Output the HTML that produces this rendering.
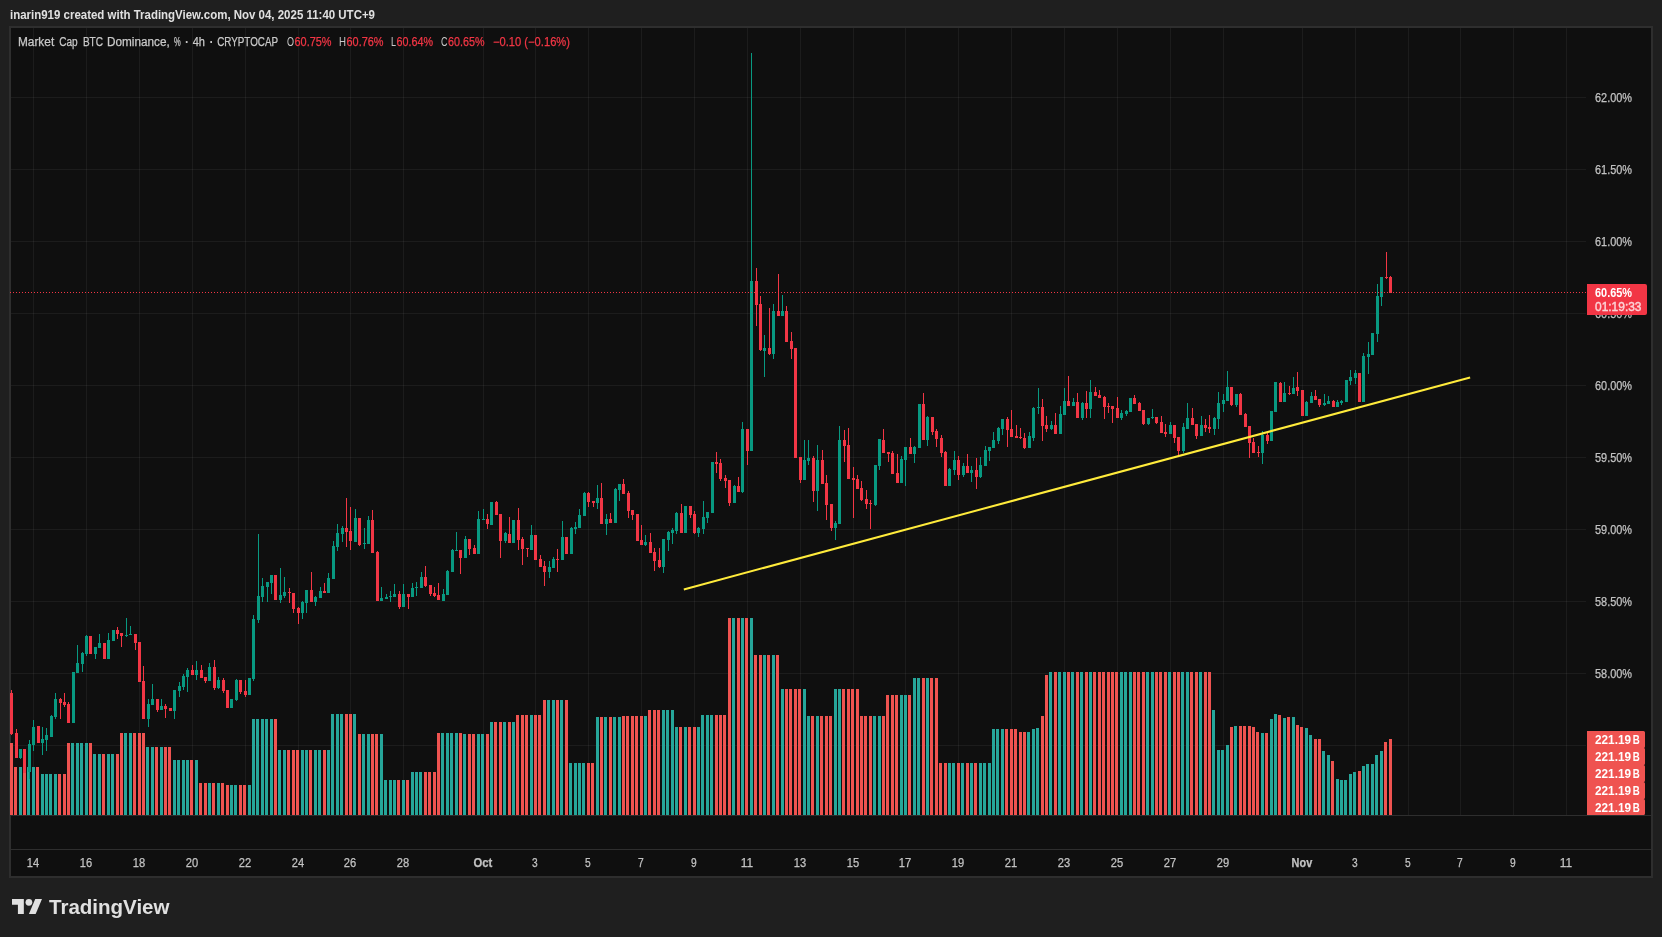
<!DOCTYPE html>
<html><head><meta charset="utf-8"><title>chart</title>
<style>
html,body{margin:0;padding:0;}
body{width:1662px;height:937px;background:#1f1f1f;position:relative;overflow:hidden;font-family:"Liberation Sans",sans-serif;}
#frame{position:absolute;left:9px;top:26px;width:1644px;height:852px;box-sizing:border-box;border:2px solid #2e2e2e;background:#0f0f0f;}
</style></head><body>
<div id="frame"></div>
<svg width="1662" height="937" viewBox="0 0 1662 937" style="position:absolute;left:0;top:0;will-change:transform" font-family="Liberation Sans, sans-serif">
<defs><clipPath id="cp"><rect x="10" y="28" width="1576" height="787"/></clipPath></defs>
<g fill="rgba(242,242,242,0.06)" shape-rendering="crispEdges">
<rect x="33" y="28" width="1" height="787"/>
<rect x="86" y="28" width="1" height="787"/>
<rect x="139" y="28" width="1" height="787"/>
<rect x="192" y="28" width="1" height="787"/>
<rect x="245" y="28" width="1" height="787"/>
<rect x="298" y="28" width="1" height="787"/>
<rect x="350" y="28" width="1" height="787"/>
<rect x="403" y="28" width="1" height="787"/>
<rect x="483" y="28" width="1" height="787"/>
<rect x="535" y="28" width="1" height="787"/>
<rect x="588" y="28" width="1" height="787"/>
<rect x="641" y="28" width="1" height="787"/>
<rect x="694" y="28" width="1" height="787"/>
<rect x="747" y="28" width="1" height="787"/>
<rect x="800" y="28" width="1" height="787"/>
<rect x="853" y="28" width="1" height="787"/>
<rect x="905" y="28" width="1" height="787"/>
<rect x="958" y="28" width="1" height="787"/>
<rect x="1011" y="28" width="1" height="787"/>
<rect x="1064" y="28" width="1" height="787"/>
<rect x="1117" y="28" width="1" height="787"/>
<rect x="1170" y="28" width="1" height="787"/>
<rect x="1223" y="28" width="1" height="787"/>
<rect x="1302" y="28" width="1" height="787"/>
<rect x="1355" y="28" width="1" height="787"/>
<rect x="1408" y="28" width="1" height="787"/>
<rect x="1460" y="28" width="1" height="787"/>
<rect x="1513" y="28" width="1" height="787"/>
<rect x="1566" y="28" width="1" height="787"/>
<rect x="11" y="97" width="1575" height="1"/>
<rect x="11" y="169" width="1575" height="1"/>
<rect x="11" y="241" width="1575" height="1"/>
<rect x="11" y="313" width="1575" height="1"/>
<rect x="11" y="385" width="1575" height="1"/>
<rect x="11" y="457" width="1575" height="1"/>
<rect x="11" y="529" width="1575" height="1"/>
<rect x="11" y="601" width="1575" height="1"/>
<rect x="11" y="673" width="1575" height="1"/>
<rect x="11" y="745" width="1575" height="1"/>
</g>
<g fill="#2e2e2e" shape-rendering="crispEdges"><rect x="11" y="815" width="1640" height="1"/><rect x="11" y="849" width="1640" height="1"/></g>
<g clip-path="url(#cp)" shape-rendering="crispEdges">
<g fill="#26a69a">
<rect x="19" y="767" width="3" height="48"/>
<rect x="27" y="767" width="3" height="48"/>
<rect x="32" y="767" width="3" height="48"/>
<rect x="41" y="774" width="3" height="41"/>
<rect x="45" y="774" width="3" height="41"/>
<rect x="49" y="774" width="3" height="41"/>
<rect x="54" y="774" width="3" height="41"/>
<rect x="71" y="743" width="3" height="72"/>
<rect x="76" y="743" width="3" height="72"/>
<rect x="80" y="743" width="3" height="72"/>
<rect x="85" y="743" width="3" height="72"/>
<rect x="93" y="754" width="3" height="61"/>
<rect x="98" y="754" width="3" height="61"/>
<rect x="107" y="754" width="3" height="61"/>
<rect x="111" y="754" width="3" height="61"/>
<rect x="124" y="733" width="3" height="82"/>
<rect x="129" y="733" width="3" height="82"/>
<rect x="146" y="747" width="3" height="68"/>
<rect x="151" y="747" width="3" height="68"/>
<rect x="160" y="747" width="3" height="68"/>
<rect x="173" y="760" width="3" height="55"/>
<rect x="177" y="760" width="3" height="55"/>
<rect x="182" y="760" width="3" height="55"/>
<rect x="186" y="760" width="3" height="55"/>
<rect x="195" y="760" width="3" height="55"/>
<rect x="208" y="783" width="3" height="32"/>
<rect x="217" y="783" width="3" height="32"/>
<rect x="230" y="785" width="3" height="30"/>
<rect x="234" y="785" width="3" height="30"/>
<rect x="248" y="785" width="3" height="30"/>
<rect x="252" y="719" width="3" height="96"/>
<rect x="256" y="719" width="3" height="96"/>
<rect x="261" y="719" width="3" height="96"/>
<rect x="265" y="719" width="3" height="96"/>
<rect x="270" y="719" width="3" height="96"/>
<rect x="278" y="750" width="3" height="65"/>
<rect x="283" y="750" width="3" height="65"/>
<rect x="301" y="750" width="3" height="65"/>
<rect x="305" y="750" width="3" height="65"/>
<rect x="314" y="750" width="3" height="65"/>
<rect x="318" y="750" width="3" height="65"/>
<rect x="327" y="750" width="3" height="65"/>
<rect x="331" y="714" width="3" height="101"/>
<rect x="336" y="714" width="3" height="101"/>
<rect x="340" y="714" width="3" height="101"/>
<rect x="353" y="714" width="3" height="101"/>
<rect x="362" y="734" width="3" height="81"/>
<rect x="367" y="734" width="3" height="81"/>
<rect x="380" y="734" width="3" height="81"/>
<rect x="384" y="780" width="3" height="35"/>
<rect x="389" y="780" width="3" height="35"/>
<rect x="393" y="780" width="3" height="35"/>
<rect x="402" y="780" width="3" height="35"/>
<rect x="411" y="772" width="3" height="43"/>
<rect x="415" y="772" width="3" height="43"/>
<rect x="419" y="772" width="3" height="43"/>
<rect x="441" y="733" width="3" height="82"/>
<rect x="446" y="733" width="3" height="82"/>
<rect x="450" y="733" width="3" height="82"/>
<rect x="455" y="733" width="3" height="82"/>
<rect x="463" y="734" width="3" height="81"/>
<rect x="477" y="734" width="3" height="81"/>
<rect x="481" y="734" width="3" height="81"/>
<rect x="490" y="722" width="3" height="93"/>
<rect x="503" y="722" width="3" height="93"/>
<rect x="512" y="722" width="3" height="93"/>
<rect x="530" y="715" width="3" height="100"/>
<rect x="547" y="700" width="3" height="115"/>
<rect x="552" y="700" width="3" height="115"/>
<rect x="560" y="700" width="3" height="115"/>
<rect x="569" y="763" width="3" height="52"/>
<rect x="574" y="763" width="3" height="52"/>
<rect x="578" y="763" width="3" height="52"/>
<rect x="582" y="763" width="3" height="52"/>
<rect x="596" y="717" width="3" height="98"/>
<rect x="604" y="717" width="3" height="98"/>
<rect x="613" y="717" width="3" height="98"/>
<rect x="618" y="717" width="3" height="98"/>
<rect x="644" y="716" width="3" height="99"/>
<rect x="662" y="710" width="3" height="105"/>
<rect x="666" y="710" width="3" height="105"/>
<rect x="671" y="710" width="3" height="105"/>
<rect x="675" y="727" width="3" height="88"/>
<rect x="684" y="727" width="3" height="88"/>
<rect x="697" y="727" width="3" height="88"/>
<rect x="701" y="715" width="3" height="100"/>
<rect x="706" y="715" width="3" height="100"/>
<rect x="710" y="715" width="3" height="100"/>
<rect x="732" y="618" width="3" height="197"/>
<rect x="741" y="618" width="3" height="197"/>
<rect x="750" y="618" width="3" height="197"/>
<rect x="763" y="655" width="3" height="160"/>
<rect x="772" y="655" width="3" height="160"/>
<rect x="781" y="689" width="3" height="126"/>
<rect x="803" y="689" width="3" height="126"/>
<rect x="807" y="716" width="3" height="99"/>
<rect x="816" y="716" width="3" height="99"/>
<rect x="834" y="689" width="3" height="126"/>
<rect x="838" y="689" width="3" height="126"/>
<rect x="873" y="716" width="3" height="99"/>
<rect x="878" y="716" width="3" height="99"/>
<rect x="900" y="695" width="3" height="120"/>
<rect x="904" y="695" width="3" height="120"/>
<rect x="913" y="678" width="3" height="137"/>
<rect x="917" y="678" width="3" height="137"/>
<rect x="926" y="678" width="3" height="137"/>
<rect x="948" y="763" width="3" height="52"/>
<rect x="952" y="763" width="3" height="52"/>
<rect x="961" y="763" width="3" height="52"/>
<rect x="970" y="763" width="3" height="52"/>
<rect x="979" y="763" width="3" height="52"/>
<rect x="983" y="763" width="3" height="52"/>
<rect x="988" y="763" width="3" height="52"/>
<rect x="992" y="729" width="3" height="86"/>
<rect x="996" y="729" width="3" height="86"/>
<rect x="1001" y="729" width="3" height="86"/>
<rect x="1027" y="732" width="3" height="83"/>
<rect x="1032" y="729" width="3" height="86"/>
<rect x="1036" y="728" width="3" height="87"/>
<rect x="1049" y="672" width="3" height="143"/>
<rect x="1058" y="672" width="3" height="143"/>
<rect x="1063" y="672" width="3" height="143"/>
<rect x="1071" y="672" width="3" height="143"/>
<rect x="1080" y="672" width="3" height="143"/>
<rect x="1089" y="672" width="3" height="143"/>
<rect x="1120" y="672" width="3" height="143"/>
<rect x="1124" y="672" width="3" height="143"/>
<rect x="1129" y="672" width="3" height="143"/>
<rect x="1146" y="672" width="3" height="143"/>
<rect x="1151" y="672" width="3" height="143"/>
<rect x="1168" y="672" width="3" height="143"/>
<rect x="1181" y="672" width="3" height="143"/>
<rect x="1186" y="672" width="3" height="143"/>
<rect x="1199" y="672" width="3" height="143"/>
<rect x="1212" y="710" width="3" height="105"/>
<rect x="1217" y="750" width="3" height="65"/>
<rect x="1221" y="750" width="3" height="65"/>
<rect x="1226" y="745" width="3" height="70"/>
<rect x="1234" y="726" width="3" height="89"/>
<rect x="1261" y="733" width="3" height="82"/>
<rect x="1270" y="719" width="3" height="96"/>
<rect x="1274" y="714" width="3" height="101"/>
<rect x="1283" y="718" width="3" height="97"/>
<rect x="1292" y="717" width="3" height="98"/>
<rect x="1305" y="728" width="3" height="87"/>
<rect x="1309" y="735" width="3" height="80"/>
<rect x="1322" y="751" width="3" height="64"/>
<rect x="1327" y="755" width="3" height="60"/>
<rect x="1336" y="779" width="3" height="36"/>
<rect x="1340" y="780" width="3" height="35"/>
<rect x="1344" y="780" width="3" height="35"/>
<rect x="1349" y="774" width="3" height="41"/>
<rect x="1353" y="772" width="3" height="43"/>
<rect x="1362" y="766" width="3" height="49"/>
<rect x="1366" y="764" width="3" height="51"/>
<rect x="1371" y="764" width="3" height="51"/>
<rect x="1375" y="755" width="3" height="60"/>
<rect x="1380" y="751" width="3" height="64"/>
</g>
<g fill="#ef5350">
<rect x="10" y="743" width="3" height="72"/>
<rect x="14" y="767" width="3" height="48"/>
<rect x="23" y="767" width="3" height="48"/>
<rect x="36" y="767" width="3" height="48"/>
<rect x="58" y="774" width="3" height="41"/>
<rect x="63" y="774" width="3" height="41"/>
<rect x="67" y="743" width="3" height="72"/>
<rect x="89" y="743" width="3" height="72"/>
<rect x="102" y="754" width="3" height="61"/>
<rect x="116" y="754" width="3" height="61"/>
<rect x="120" y="733" width="3" height="82"/>
<rect x="133" y="733" width="3" height="82"/>
<rect x="138" y="733" width="3" height="82"/>
<rect x="142" y="733" width="3" height="82"/>
<rect x="155" y="747" width="3" height="68"/>
<rect x="164" y="747" width="3" height="68"/>
<rect x="168" y="747" width="3" height="68"/>
<rect x="190" y="760" width="3" height="55"/>
<rect x="199" y="783" width="3" height="32"/>
<rect x="204" y="783" width="3" height="32"/>
<rect x="212" y="783" width="3" height="32"/>
<rect x="221" y="783" width="3" height="32"/>
<rect x="226" y="785" width="3" height="30"/>
<rect x="239" y="785" width="3" height="30"/>
<rect x="243" y="785" width="3" height="30"/>
<rect x="274" y="719" width="3" height="96"/>
<rect x="287" y="750" width="3" height="65"/>
<rect x="292" y="750" width="3" height="65"/>
<rect x="296" y="750" width="3" height="65"/>
<rect x="309" y="750" width="3" height="65"/>
<rect x="323" y="750" width="3" height="65"/>
<rect x="345" y="714" width="3" height="101"/>
<rect x="349" y="714" width="3" height="101"/>
<rect x="358" y="734" width="3" height="81"/>
<rect x="371" y="734" width="3" height="81"/>
<rect x="375" y="734" width="3" height="81"/>
<rect x="397" y="780" width="3" height="35"/>
<rect x="406" y="780" width="3" height="35"/>
<rect x="424" y="772" width="3" height="43"/>
<rect x="428" y="772" width="3" height="43"/>
<rect x="433" y="772" width="3" height="43"/>
<rect x="437" y="733" width="3" height="82"/>
<rect x="459" y="733" width="3" height="82"/>
<rect x="468" y="734" width="3" height="81"/>
<rect x="472" y="734" width="3" height="81"/>
<rect x="486" y="734" width="3" height="81"/>
<rect x="494" y="722" width="3" height="93"/>
<rect x="499" y="722" width="3" height="93"/>
<rect x="508" y="722" width="3" height="93"/>
<rect x="516" y="715" width="3" height="100"/>
<rect x="521" y="715" width="3" height="100"/>
<rect x="525" y="715" width="3" height="100"/>
<rect x="534" y="715" width="3" height="100"/>
<rect x="538" y="715" width="3" height="100"/>
<rect x="543" y="700" width="3" height="115"/>
<rect x="556" y="700" width="3" height="115"/>
<rect x="565" y="700" width="3" height="115"/>
<rect x="587" y="763" width="3" height="52"/>
<rect x="591" y="763" width="3" height="52"/>
<rect x="600" y="717" width="3" height="98"/>
<rect x="609" y="717" width="3" height="98"/>
<rect x="622" y="716" width="3" height="99"/>
<rect x="626" y="716" width="3" height="99"/>
<rect x="631" y="716" width="3" height="99"/>
<rect x="635" y="716" width="3" height="99"/>
<rect x="640" y="716" width="3" height="99"/>
<rect x="648" y="710" width="3" height="105"/>
<rect x="653" y="710" width="3" height="105"/>
<rect x="657" y="710" width="3" height="105"/>
<rect x="679" y="727" width="3" height="88"/>
<rect x="688" y="727" width="3" height="88"/>
<rect x="693" y="727" width="3" height="88"/>
<rect x="715" y="715" width="3" height="100"/>
<rect x="719" y="715" width="3" height="100"/>
<rect x="723" y="715" width="3" height="100"/>
<rect x="728" y="618" width="3" height="197"/>
<rect x="737" y="618" width="3" height="197"/>
<rect x="745" y="618" width="3" height="197"/>
<rect x="754" y="655" width="3" height="160"/>
<rect x="759" y="655" width="3" height="160"/>
<rect x="767" y="655" width="3" height="160"/>
<rect x="776" y="655" width="3" height="160"/>
<rect x="785" y="689" width="3" height="126"/>
<rect x="789" y="689" width="3" height="126"/>
<rect x="794" y="689" width="3" height="126"/>
<rect x="798" y="689" width="3" height="126"/>
<rect x="811" y="716" width="3" height="99"/>
<rect x="820" y="716" width="3" height="99"/>
<rect x="825" y="716" width="3" height="99"/>
<rect x="829" y="716" width="3" height="99"/>
<rect x="842" y="689" width="3" height="126"/>
<rect x="847" y="689" width="3" height="126"/>
<rect x="851" y="689" width="3" height="126"/>
<rect x="856" y="689" width="3" height="126"/>
<rect x="860" y="716" width="3" height="99"/>
<rect x="864" y="716" width="3" height="99"/>
<rect x="869" y="716" width="3" height="99"/>
<rect x="882" y="716" width="3" height="99"/>
<rect x="886" y="695" width="3" height="120"/>
<rect x="891" y="695" width="3" height="120"/>
<rect x="895" y="695" width="3" height="120"/>
<rect x="908" y="695" width="3" height="120"/>
<rect x="922" y="678" width="3" height="137"/>
<rect x="930" y="678" width="3" height="137"/>
<rect x="935" y="678" width="3" height="137"/>
<rect x="939" y="763" width="3" height="52"/>
<rect x="944" y="763" width="3" height="52"/>
<rect x="957" y="763" width="3" height="52"/>
<rect x="966" y="763" width="3" height="52"/>
<rect x="974" y="763" width="3" height="52"/>
<rect x="1005" y="729" width="3" height="86"/>
<rect x="1010" y="729" width="3" height="86"/>
<rect x="1014" y="729" width="3" height="86"/>
<rect x="1019" y="732" width="3" height="83"/>
<rect x="1023" y="732" width="3" height="83"/>
<rect x="1041" y="716" width="3" height="99"/>
<rect x="1045" y="675" width="3" height="140"/>
<rect x="1054" y="672" width="3" height="143"/>
<rect x="1067" y="672" width="3" height="143"/>
<rect x="1076" y="672" width="3" height="143"/>
<rect x="1085" y="672" width="3" height="143"/>
<rect x="1093" y="672" width="3" height="143"/>
<rect x="1098" y="672" width="3" height="143"/>
<rect x="1102" y="672" width="3" height="143"/>
<rect x="1107" y="672" width="3" height="143"/>
<rect x="1111" y="672" width="3" height="143"/>
<rect x="1115" y="672" width="3" height="143"/>
<rect x="1133" y="672" width="3" height="143"/>
<rect x="1137" y="672" width="3" height="143"/>
<rect x="1142" y="672" width="3" height="143"/>
<rect x="1155" y="672" width="3" height="143"/>
<rect x="1159" y="672" width="3" height="143"/>
<rect x="1164" y="672" width="3" height="143"/>
<rect x="1173" y="672" width="3" height="143"/>
<rect x="1177" y="672" width="3" height="143"/>
<rect x="1190" y="672" width="3" height="143"/>
<rect x="1195" y="672" width="3" height="143"/>
<rect x="1204" y="672" width="3" height="143"/>
<rect x="1208" y="672" width="3" height="143"/>
<rect x="1230" y="727" width="3" height="88"/>
<rect x="1239" y="726" width="3" height="89"/>
<rect x="1243" y="726" width="3" height="89"/>
<rect x="1248" y="726" width="3" height="89"/>
<rect x="1252" y="727" width="3" height="88"/>
<rect x="1256" y="732" width="3" height="83"/>
<rect x="1265" y="733" width="3" height="82"/>
<rect x="1278" y="715" width="3" height="100"/>
<rect x="1287" y="717" width="3" height="98"/>
<rect x="1296" y="725" width="3" height="90"/>
<rect x="1300" y="727" width="3" height="88"/>
<rect x="1314" y="739" width="3" height="76"/>
<rect x="1318" y="739" width="3" height="76"/>
<rect x="1331" y="761" width="3" height="54"/>
<rect x="1358" y="771" width="3" height="44"/>
<rect x="1384" y="742" width="3" height="73"/>
<rect x="1389" y="739" width="3" height="76"/>
</g>
<g fill="#089981">
<rect x="20" y="749" width="1" height="10"/>
<rect x="19" y="749" width="3" height="9"/>
<rect x="29" y="740" width="1" height="39"/>
<rect x="28" y="744" width="3" height="28"/>
<rect x="33" y="720" width="1" height="31"/>
<rect x="32" y="727" width="3" height="18"/>
<rect x="42" y="727" width="1" height="28"/>
<rect x="41" y="739" width="3" height="4"/>
<rect x="46" y="728" width="1" height="23"/>
<rect x="45" y="735" width="3" height="5"/>
<rect x="51" y="715" width="1" height="22"/>
<rect x="50" y="716" width="3" height="21"/>
<rect x="55" y="693" width="1" height="26"/>
<rect x="54" y="699" width="3" height="18"/>
<rect x="73" y="672" width="1" height="51"/>
<rect x="72" y="672" width="3" height="51"/>
<rect x="77" y="645" width="1" height="28"/>
<rect x="76" y="663" width="3" height="10"/>
<rect x="82" y="652" width="1" height="20"/>
<rect x="81" y="653" width="3" height="11"/>
<rect x="86" y="635" width="1" height="21"/>
<rect x="85" y="636" width="3" height="18"/>
<rect x="95" y="647" width="1" height="12"/>
<rect x="94" y="647" width="3" height="7"/>
<rect x="99" y="634" width="1" height="14"/>
<rect x="98" y="643" width="3" height="5"/>
<rect x="108" y="633" width="1" height="26"/>
<rect x="107" y="640" width="3" height="19"/>
<rect x="113" y="630" width="1" height="11"/>
<rect x="112" y="630" width="3" height="11"/>
<rect x="126" y="618" width="1" height="19"/>
<rect x="125" y="635" width="3" height="1"/>
<rect x="130" y="626" width="1" height="9"/>
<rect x="129" y="634" width="3" height="1"/>
<rect x="148" y="699" width="1" height="28"/>
<rect x="147" y="704" width="3" height="15"/>
<rect x="152" y="684" width="1" height="21"/>
<rect x="151" y="699" width="3" height="6"/>
<rect x="161" y="699" width="1" height="11"/>
<rect x="160" y="706" width="3" height="4"/>
<rect x="174" y="690" width="1" height="29"/>
<rect x="173" y="690" width="3" height="21"/>
<rect x="179" y="682" width="1" height="15"/>
<rect x="178" y="686" width="3" height="5"/>
<rect x="183" y="674" width="1" height="16"/>
<rect x="182" y="676" width="3" height="11"/>
<rect x="187" y="668" width="1" height="24"/>
<rect x="186" y="670" width="3" height="7"/>
<rect x="196" y="661" width="1" height="19"/>
<rect x="195" y="670" width="3" height="5"/>
<rect x="209" y="663" width="1" height="18"/>
<rect x="208" y="667" width="3" height="14"/>
<rect x="218" y="677" width="1" height="12"/>
<rect x="217" y="680" width="3" height="8"/>
<rect x="231" y="699" width="1" height="9"/>
<rect x="230" y="699" width="3" height="9"/>
<rect x="236" y="679" width="1" height="22"/>
<rect x="235" y="680" width="3" height="20"/>
<rect x="249" y="678" width="1" height="17"/>
<rect x="248" y="678" width="3" height="17"/>
<rect x="253" y="615" width="1" height="66"/>
<rect x="252" y="619" width="3" height="60"/>
<rect x="258" y="534" width="1" height="89"/>
<rect x="257" y="596" width="3" height="24"/>
<rect x="262" y="578" width="1" height="24"/>
<rect x="261" y="586" width="3" height="11"/>
<rect x="267" y="582" width="1" height="20"/>
<rect x="266" y="582" width="3" height="5"/>
<rect x="271" y="575" width="1" height="19"/>
<rect x="270" y="575" width="3" height="8"/>
<rect x="280" y="568" width="1" height="35"/>
<rect x="279" y="595" width="3" height="5"/>
<rect x="284" y="577" width="1" height="21"/>
<rect x="283" y="592" width="3" height="4"/>
<rect x="302" y="601" width="1" height="18"/>
<rect x="301" y="602" width="3" height="11"/>
<rect x="306" y="590" width="1" height="23"/>
<rect x="305" y="590" width="3" height="13"/>
<rect x="315" y="596" width="1" height="10"/>
<rect x="314" y="597" width="3" height="5"/>
<rect x="320" y="587" width="1" height="11"/>
<rect x="319" y="591" width="3" height="7"/>
<rect x="328" y="573" width="1" height="20"/>
<rect x="327" y="578" width="3" height="15"/>
<rect x="333" y="541" width="1" height="38"/>
<rect x="332" y="546" width="3" height="33"/>
<rect x="337" y="524" width="1" height="27"/>
<rect x="336" y="533" width="3" height="14"/>
<rect x="342" y="526" width="1" height="16"/>
<rect x="341" y="528" width="3" height="6"/>
<rect x="355" y="509" width="1" height="33"/>
<rect x="354" y="518" width="3" height="24"/>
<rect x="364" y="528" width="1" height="21"/>
<rect x="363" y="543" width="3" height="1"/>
<rect x="368" y="516" width="1" height="28"/>
<rect x="367" y="520" width="3" height="24"/>
<rect x="381" y="587" width="1" height="14"/>
<rect x="380" y="598" width="3" height="3"/>
<rect x="386" y="594" width="1" height="5"/>
<rect x="385" y="597" width="3" height="2"/>
<rect x="390" y="591" width="1" height="11"/>
<rect x="389" y="596" width="3" height="1"/>
<rect x="394" y="584" width="1" height="13"/>
<rect x="393" y="594" width="3" height="3"/>
<rect x="403" y="584" width="1" height="23"/>
<rect x="402" y="594" width="3" height="13"/>
<rect x="412" y="583" width="1" height="14"/>
<rect x="411" y="588" width="3" height="9"/>
<rect x="416" y="582" width="1" height="14"/>
<rect x="415" y="587" width="3" height="1"/>
<rect x="421" y="572" width="1" height="16"/>
<rect x="420" y="577" width="3" height="11"/>
<rect x="443" y="589" width="1" height="12"/>
<rect x="442" y="594" width="3" height="7"/>
<rect x="447" y="570" width="1" height="25"/>
<rect x="446" y="571" width="3" height="24"/>
<rect x="452" y="549" width="1" height="23"/>
<rect x="451" y="550" width="3" height="22"/>
<rect x="456" y="532" width="1" height="19"/>
<rect x="455" y="550" width="3" height="1"/>
<rect x="465" y="536" width="1" height="22"/>
<rect x="464" y="539" width="3" height="19"/>
<rect x="478" y="511" width="1" height="43"/>
<rect x="477" y="519" width="3" height="35"/>
<rect x="483" y="509" width="1" height="11"/>
<rect x="482" y="519" width="3" height="1"/>
<rect x="491" y="502" width="1" height="23"/>
<rect x="490" y="502" width="3" height="23"/>
<rect x="505" y="532" width="1" height="11"/>
<rect x="504" y="533" width="3" height="8"/>
<rect x="513" y="520" width="1" height="23"/>
<rect x="512" y="520" width="3" height="23"/>
<rect x="531" y="525" width="1" height="25"/>
<rect x="530" y="535" width="3" height="15"/>
<rect x="549" y="561" width="1" height="17"/>
<rect x="548" y="567" width="3" height="5"/>
<rect x="553" y="557" width="1" height="11"/>
<rect x="552" y="559" width="3" height="9"/>
<rect x="562" y="521" width="1" height="39"/>
<rect x="561" y="537" width="3" height="23"/>
<rect x="571" y="527" width="1" height="27"/>
<rect x="570" y="528" width="3" height="26"/>
<rect x="575" y="522" width="1" height="12"/>
<rect x="574" y="527" width="3" height="2"/>
<rect x="579" y="509" width="1" height="19"/>
<rect x="578" y="515" width="3" height="13"/>
<rect x="584" y="492" width="1" height="24"/>
<rect x="583" y="493" width="3" height="23"/>
<rect x="597" y="485" width="1" height="24"/>
<rect x="596" y="498" width="3" height="5"/>
<rect x="606" y="514" width="1" height="21"/>
<rect x="605" y="519" width="3" height="5"/>
<rect x="615" y="488" width="1" height="35"/>
<rect x="614" y="489" width="3" height="34"/>
<rect x="619" y="484" width="1" height="17"/>
<rect x="618" y="484" width="3" height="6"/>
<rect x="645" y="535" width="1" height="11"/>
<rect x="644" y="542" width="3" height="3"/>
<rect x="663" y="539" width="1" height="34"/>
<rect x="662" y="539" width="3" height="28"/>
<rect x="668" y="531" width="1" height="20"/>
<rect x="667" y="532" width="3" height="8"/>
<rect x="672" y="528" width="1" height="16"/>
<rect x="671" y="530" width="3" height="3"/>
<rect x="676" y="512" width="1" height="22"/>
<rect x="675" y="513" width="3" height="18"/>
<rect x="685" y="506" width="1" height="27"/>
<rect x="684" y="506" width="3" height="27"/>
<rect x="698" y="527" width="1" height="10"/>
<rect x="697" y="528" width="3" height="5"/>
<rect x="703" y="501" width="1" height="33"/>
<rect x="702" y="517" width="3" height="12"/>
<rect x="707" y="512" width="1" height="11"/>
<rect x="706" y="512" width="3" height="6"/>
<rect x="712" y="462" width="1" height="51"/>
<rect x="711" y="462" width="3" height="51"/>
<rect x="734" y="485" width="1" height="18"/>
<rect x="733" y="486" width="3" height="17"/>
<rect x="742" y="422" width="1" height="71"/>
<rect x="741" y="429" width="3" height="63"/>
<rect x="751" y="53" width="1" height="398"/>
<rect x="750" y="281" width="3" height="170"/>
<rect x="764" y="335" width="1" height="42"/>
<rect x="763" y="348" width="3" height="3"/>
<rect x="773" y="304" width="1" height="55"/>
<rect x="772" y="311" width="3" height="43"/>
<rect x="782" y="295" width="1" height="21"/>
<rect x="781" y="311" width="3" height="5"/>
<rect x="804" y="440" width="1" height="40"/>
<rect x="803" y="460" width="3" height="20"/>
<rect x="808" y="440" width="1" height="25"/>
<rect x="807" y="458" width="3" height="3"/>
<rect x="817" y="445" width="1" height="66"/>
<rect x="816" y="460" width="3" height="31"/>
<rect x="835" y="521" width="1" height="19"/>
<rect x="834" y="523" width="3" height="5"/>
<rect x="839" y="426" width="1" height="98"/>
<rect x="838" y="440" width="3" height="84"/>
<rect x="875" y="465" width="1" height="41"/>
<rect x="874" y="465" width="3" height="40"/>
<rect x="879" y="439" width="1" height="31"/>
<rect x="878" y="439" width="3" height="27"/>
<rect x="901" y="456" width="1" height="27"/>
<rect x="900" y="459" width="3" height="24"/>
<rect x="905" y="447" width="1" height="39"/>
<rect x="904" y="447" width="3" height="13"/>
<rect x="914" y="446" width="1" height="17"/>
<rect x="913" y="447" width="3" height="7"/>
<rect x="919" y="404" width="1" height="44"/>
<rect x="918" y="404" width="3" height="44"/>
<rect x="927" y="416" width="1" height="30"/>
<rect x="926" y="417" width="3" height="23"/>
<rect x="949" y="468" width="1" height="18"/>
<rect x="948" y="469" width="3" height="17"/>
<rect x="954" y="451" width="1" height="24"/>
<rect x="953" y="460" width="3" height="10"/>
<rect x="963" y="463" width="1" height="14"/>
<rect x="962" y="466" width="3" height="9"/>
<rect x="971" y="466" width="1" height="16"/>
<rect x="970" y="470" width="3" height="3"/>
<rect x="980" y="457" width="1" height="21"/>
<rect x="979" y="465" width="3" height="12"/>
<rect x="985" y="446" width="1" height="20"/>
<rect x="984" y="450" width="3" height="16"/>
<rect x="989" y="447" width="1" height="14"/>
<rect x="988" y="447" width="3" height="4"/>
<rect x="993" y="432" width="1" height="16"/>
<rect x="992" y="440" width="3" height="8"/>
<rect x="998" y="427" width="1" height="17"/>
<rect x="997" y="428" width="3" height="13"/>
<rect x="1002" y="419" width="1" height="16"/>
<rect x="1001" y="419" width="3" height="10"/>
<rect x="1029" y="432" width="1" height="16"/>
<rect x="1028" y="436" width="3" height="12"/>
<rect x="1033" y="407" width="1" height="34"/>
<rect x="1032" y="408" width="3" height="30"/>
<rect x="1038" y="388" width="1" height="26"/>
<rect x="1037" y="407" width="3" height="1"/>
<rect x="1051" y="421" width="1" height="9"/>
<rect x="1050" y="425" width="3" height="4"/>
<rect x="1060" y="406" width="1" height="28"/>
<rect x="1059" y="414" width="3" height="20"/>
<rect x="1064" y="388" width="1" height="27"/>
<rect x="1063" y="401" width="3" height="14"/>
<rect x="1073" y="398" width="1" height="8"/>
<rect x="1072" y="402" width="3" height="4"/>
<rect x="1082" y="402" width="1" height="18"/>
<rect x="1081" y="403" width="3" height="15"/>
<rect x="1090" y="380" width="1" height="38"/>
<rect x="1089" y="392" width="3" height="17"/>
<rect x="1121" y="410" width="1" height="10"/>
<rect x="1120" y="413" width="3" height="5"/>
<rect x="1126" y="410" width="1" height="6"/>
<rect x="1125" y="411" width="3" height="3"/>
<rect x="1130" y="398" width="1" height="14"/>
<rect x="1129" y="398" width="3" height="14"/>
<rect x="1148" y="418" width="1" height="7"/>
<rect x="1147" y="418" width="3" height="6"/>
<rect x="1152" y="409" width="1" height="10"/>
<rect x="1151" y="417" width="3" height="1"/>
<rect x="1170" y="422" width="1" height="12"/>
<rect x="1169" y="425" width="3" height="9"/>
<rect x="1183" y="423" width="1" height="30"/>
<rect x="1182" y="427" width="3" height="24"/>
<rect x="1187" y="403" width="1" height="26"/>
<rect x="1186" y="418" width="3" height="11"/>
<rect x="1201" y="416" width="1" height="20"/>
<rect x="1200" y="425" width="3" height="11"/>
<rect x="1214" y="417" width="1" height="18"/>
<rect x="1213" y="418" width="3" height="11"/>
<rect x="1218" y="392" width="1" height="37"/>
<rect x="1217" y="403" width="3" height="16"/>
<rect x="1223" y="394" width="1" height="18"/>
<rect x="1222" y="400" width="3" height="4"/>
<rect x="1227" y="371" width="1" height="30"/>
<rect x="1226" y="387" width="3" height="14"/>
<rect x="1236" y="394" width="1" height="13"/>
<rect x="1235" y="394" width="3" height="11"/>
<rect x="1262" y="431" width="1" height="33"/>
<rect x="1261" y="435" width="3" height="18"/>
<rect x="1271" y="411" width="1" height="30"/>
<rect x="1270" y="411" width="3" height="30"/>
<rect x="1275" y="382" width="1" height="30"/>
<rect x="1274" y="382" width="3" height="30"/>
<rect x="1284" y="382" width="1" height="20"/>
<rect x="1283" y="393" width="3" height="9"/>
<rect x="1293" y="377" width="1" height="17"/>
<rect x="1292" y="388" width="3" height="6"/>
<rect x="1306" y="401" width="1" height="15"/>
<rect x="1305" y="402" width="3" height="14"/>
<rect x="1311" y="392" width="1" height="11"/>
<rect x="1310" y="396" width="3" height="7"/>
<rect x="1324" y="394" width="1" height="12"/>
<rect x="1323" y="403" width="3" height="2"/>
<rect x="1328" y="396" width="1" height="8"/>
<rect x="1327" y="401" width="3" height="3"/>
<rect x="1337" y="400" width="1" height="7"/>
<rect x="1336" y="402" width="3" height="5"/>
<rect x="1341" y="400" width="1" height="5"/>
<rect x="1340" y="401" width="3" height="2"/>
<rect x="1346" y="380" width="1" height="22"/>
<rect x="1345" y="380" width="3" height="22"/>
<rect x="1350" y="370" width="1" height="15"/>
<rect x="1349" y="377" width="3" height="4"/>
<rect x="1355" y="370" width="1" height="14"/>
<rect x="1354" y="373" width="3" height="5"/>
<rect x="1363" y="353" width="1" height="49"/>
<rect x="1362" y="356" width="3" height="46"/>
<rect x="1368" y="342" width="1" height="32"/>
<rect x="1367" y="354" width="3" height="3"/>
<rect x="1372" y="333" width="1" height="22"/>
<rect x="1371" y="333" width="3" height="22"/>
<rect x="1377" y="284" width="1" height="58"/>
<rect x="1376" y="296" width="3" height="38"/>
<rect x="1381" y="277" width="1" height="29"/>
<rect x="1380" y="277" width="3" height="20"/>
</g>
<g fill="#f23645">
<rect x="11" y="690" width="1" height="45"/>
<rect x="10" y="693" width="3" height="41"/>
<rect x="16" y="729" width="1" height="29"/>
<rect x="15" y="733" width="3" height="25"/>
<rect x="24" y="749" width="1" height="24"/>
<rect x="23" y="749" width="3" height="24"/>
<rect x="38" y="726" width="1" height="17"/>
<rect x="37" y="726" width="3" height="17"/>
<rect x="60" y="698" width="1" height="21"/>
<rect x="59" y="699" width="3" height="4"/>
<rect x="64" y="693" width="1" height="14"/>
<rect x="63" y="702" width="3" height="3"/>
<rect x="68" y="702" width="1" height="21"/>
<rect x="67" y="704" width="3" height="19"/>
<rect x="90" y="636" width="1" height="18"/>
<rect x="89" y="636" width="3" height="18"/>
<rect x="104" y="643" width="1" height="16"/>
<rect x="103" y="643" width="3" height="16"/>
<rect x="117" y="627" width="1" height="12"/>
<rect x="116" y="630" width="3" height="4"/>
<rect x="121" y="633" width="1" height="14"/>
<rect x="120" y="633" width="3" height="3"/>
<rect x="135" y="634" width="1" height="16"/>
<rect x="134" y="634" width="3" height="9"/>
<rect x="139" y="642" width="1" height="40"/>
<rect x="138" y="642" width="3" height="40"/>
<rect x="143" y="666" width="1" height="53"/>
<rect x="142" y="681" width="3" height="38"/>
<rect x="157" y="699" width="1" height="13"/>
<rect x="156" y="699" width="3" height="11"/>
<rect x="165" y="704" width="1" height="14"/>
<rect x="164" y="706" width="3" height="3"/>
<rect x="170" y="708" width="1" height="3"/>
<rect x="169" y="708" width="3" height="3"/>
<rect x="192" y="665" width="1" height="10"/>
<rect x="191" y="670" width="3" height="5"/>
<rect x="201" y="665" width="1" height="13"/>
<rect x="200" y="670" width="3" height="8"/>
<rect x="205" y="677" width="1" height="6"/>
<rect x="204" y="677" width="3" height="4"/>
<rect x="214" y="660" width="1" height="30"/>
<rect x="213" y="667" width="3" height="21"/>
<rect x="223" y="678" width="1" height="15"/>
<rect x="222" y="680" width="3" height="11"/>
<rect x="227" y="690" width="1" height="18"/>
<rect x="226" y="690" width="3" height="18"/>
<rect x="240" y="680" width="1" height="14"/>
<rect x="239" y="680" width="3" height="12"/>
<rect x="245" y="680" width="1" height="17"/>
<rect x="244" y="691" width="3" height="4"/>
<rect x="275" y="575" width="1" height="25"/>
<rect x="274" y="575" width="3" height="25"/>
<rect x="289" y="588" width="1" height="15"/>
<rect x="288" y="592" width="3" height="1"/>
<rect x="293" y="593" width="1" height="20"/>
<rect x="292" y="593" width="3" height="16"/>
<rect x="298" y="607" width="1" height="17"/>
<rect x="297" y="608" width="3" height="5"/>
<rect x="311" y="572" width="1" height="30"/>
<rect x="310" y="590" width="3" height="12"/>
<rect x="324" y="583" width="1" height="10"/>
<rect x="323" y="591" width="3" height="2"/>
<rect x="346" y="498" width="1" height="49"/>
<rect x="345" y="528" width="3" height="4"/>
<rect x="350" y="507" width="1" height="43"/>
<rect x="349" y="531" width="3" height="10"/>
<rect x="359" y="518" width="1" height="28"/>
<rect x="358" y="518" width="3" height="27"/>
<rect x="372" y="510" width="1" height="43"/>
<rect x="371" y="520" width="3" height="33"/>
<rect x="377" y="551" width="1" height="50"/>
<rect x="376" y="552" width="3" height="49"/>
<rect x="399" y="591" width="1" height="18"/>
<rect x="398" y="594" width="3" height="13"/>
<rect x="408" y="594" width="1" height="15"/>
<rect x="407" y="594" width="3" height="3"/>
<rect x="425" y="566" width="1" height="21"/>
<rect x="424" y="577" width="3" height="9"/>
<rect x="430" y="585" width="1" height="11"/>
<rect x="429" y="585" width="3" height="9"/>
<rect x="434" y="587" width="1" height="10"/>
<rect x="433" y="593" width="3" height="3"/>
<rect x="438" y="583" width="1" height="17"/>
<rect x="437" y="595" width="3" height="5"/>
<rect x="460" y="550" width="1" height="24"/>
<rect x="459" y="550" width="3" height="8"/>
<rect x="469" y="539" width="1" height="16"/>
<rect x="468" y="539" width="3" height="10"/>
<rect x="474" y="545" width="1" height="9"/>
<rect x="473" y="548" width="3" height="6"/>
<rect x="487" y="514" width="1" height="15"/>
<rect x="486" y="519" width="3" height="5"/>
<rect x="496" y="501" width="1" height="14"/>
<rect x="495" y="502" width="3" height="13"/>
<rect x="500" y="514" width="1" height="44"/>
<rect x="499" y="514" width="3" height="27"/>
<rect x="509" y="517" width="1" height="26"/>
<rect x="508" y="534" width="3" height="9"/>
<rect x="518" y="508" width="1" height="42"/>
<rect x="517" y="520" width="3" height="20"/>
<rect x="522" y="537" width="1" height="28"/>
<rect x="521" y="539" width="3" height="10"/>
<rect x="527" y="548" width="1" height="9"/>
<rect x="526" y="548" width="3" height="1"/>
<rect x="535" y="535" width="1" height="25"/>
<rect x="534" y="535" width="3" height="25"/>
<rect x="540" y="555" width="1" height="12"/>
<rect x="539" y="559" width="3" height="8"/>
<rect x="544" y="561" width="1" height="25"/>
<rect x="543" y="566" width="3" height="6"/>
<rect x="557" y="549" width="1" height="23"/>
<rect x="556" y="559" width="3" height="1"/>
<rect x="566" y="537" width="1" height="17"/>
<rect x="565" y="537" width="3" height="17"/>
<rect x="588" y="492" width="1" height="15"/>
<rect x="587" y="493" width="3" height="9"/>
<rect x="593" y="501" width="1" height="6"/>
<rect x="592" y="501" width="3" height="2"/>
<rect x="601" y="483" width="1" height="41"/>
<rect x="600" y="498" width="3" height="26"/>
<rect x="610" y="513" width="1" height="10"/>
<rect x="609" y="519" width="3" height="4"/>
<rect x="623" y="479" width="1" height="15"/>
<rect x="622" y="484" width="3" height="10"/>
<rect x="628" y="491" width="1" height="27"/>
<rect x="627" y="493" width="3" height="18"/>
<rect x="632" y="510" width="1" height="10"/>
<rect x="631" y="510" width="3" height="5"/>
<rect x="637" y="514" width="1" height="27"/>
<rect x="636" y="514" width="3" height="27"/>
<rect x="641" y="525" width="1" height="20"/>
<rect x="640" y="540" width="3" height="5"/>
<rect x="650" y="533" width="1" height="20"/>
<rect x="649" y="542" width="3" height="11"/>
<rect x="654" y="548" width="1" height="23"/>
<rect x="653" y="552" width="3" height="9"/>
<rect x="659" y="548" width="1" height="20"/>
<rect x="658" y="560" width="3" height="7"/>
<rect x="681" y="504" width="1" height="29"/>
<rect x="680" y="513" width="3" height="20"/>
<rect x="690" y="506" width="1" height="12"/>
<rect x="689" y="506" width="3" height="9"/>
<rect x="694" y="511" width="1" height="23"/>
<rect x="693" y="514" width="3" height="19"/>
<rect x="716" y="452" width="1" height="21"/>
<rect x="715" y="462" width="3" height="2"/>
<rect x="720" y="459" width="1" height="22"/>
<rect x="719" y="463" width="3" height="16"/>
<rect x="725" y="475" width="1" height="13"/>
<rect x="724" y="478" width="3" height="3"/>
<rect x="729" y="480" width="1" height="26"/>
<rect x="728" y="480" width="3" height="23"/>
<rect x="738" y="477" width="1" height="15"/>
<rect x="737" y="486" width="3" height="6"/>
<rect x="747" y="429" width="1" height="36"/>
<rect x="746" y="429" width="3" height="22"/>
<rect x="756" y="268" width="1" height="58"/>
<rect x="755" y="281" width="3" height="24"/>
<rect x="760" y="296" width="1" height="55"/>
<rect x="759" y="304" width="3" height="46"/>
<rect x="769" y="308" width="1" height="47"/>
<rect x="768" y="348" width="3" height="6"/>
<rect x="778" y="274" width="1" height="42"/>
<rect x="777" y="311" width="3" height="5"/>
<rect x="786" y="306" width="1" height="36"/>
<rect x="785" y="311" width="3" height="31"/>
<rect x="791" y="332" width="1" height="27"/>
<rect x="790" y="341" width="3" height="8"/>
<rect x="795" y="348" width="1" height="110"/>
<rect x="794" y="348" width="3" height="110"/>
<rect x="800" y="457" width="1" height="26"/>
<rect x="799" y="457" width="3" height="23"/>
<rect x="813" y="456" width="1" height="46"/>
<rect x="812" y="458" width="3" height="33"/>
<rect x="822" y="450" width="1" height="34"/>
<rect x="821" y="460" width="3" height="24"/>
<rect x="826" y="475" width="1" height="45"/>
<rect x="825" y="483" width="3" height="22"/>
<rect x="831" y="504" width="1" height="27"/>
<rect x="830" y="504" width="3" height="24"/>
<rect x="844" y="430" width="1" height="32"/>
<rect x="843" y="440" width="3" height="6"/>
<rect x="848" y="428" width="1" height="51"/>
<rect x="847" y="445" width="3" height="34"/>
<rect x="853" y="467" width="1" height="51"/>
<rect x="852" y="478" width="3" height="2"/>
<rect x="857" y="475" width="1" height="14"/>
<rect x="856" y="479" width="3" height="10"/>
<rect x="861" y="481" width="1" height="20"/>
<rect x="860" y="488" width="3" height="12"/>
<rect x="866" y="490" width="1" height="19"/>
<rect x="865" y="499" width="3" height="5"/>
<rect x="870" y="500" width="1" height="29"/>
<rect x="869" y="503" width="3" height="1"/>
<rect x="883" y="429" width="1" height="24"/>
<rect x="882" y="440" width="3" height="13"/>
<rect x="888" y="452" width="1" height="10"/>
<rect x="887" y="452" width="3" height="2"/>
<rect x="892" y="451" width="1" height="23"/>
<rect x="891" y="453" width="3" height="21"/>
<rect x="897" y="454" width="1" height="29"/>
<rect x="896" y="473" width="3" height="10"/>
<rect x="910" y="438" width="1" height="16"/>
<rect x="909" y="447" width="3" height="7"/>
<rect x="923" y="393" width="1" height="47"/>
<rect x="922" y="404" width="3" height="36"/>
<rect x="932" y="417" width="1" height="18"/>
<rect x="931" y="417" width="3" height="15"/>
<rect x="936" y="429" width="1" height="18"/>
<rect x="935" y="431" width="3" height="8"/>
<rect x="941" y="435" width="1" height="22"/>
<rect x="940" y="438" width="3" height="15"/>
<rect x="945" y="451" width="1" height="35"/>
<rect x="944" y="452" width="3" height="34"/>
<rect x="958" y="456" width="1" height="24"/>
<rect x="957" y="460" width="3" height="15"/>
<rect x="967" y="454" width="1" height="19"/>
<rect x="966" y="466" width="3" height="7"/>
<rect x="976" y="458" width="1" height="31"/>
<rect x="975" y="470" width="3" height="7"/>
<rect x="1007" y="417" width="1" height="30"/>
<rect x="1006" y="419" width="3" height="11"/>
<rect x="1011" y="410" width="1" height="27"/>
<rect x="1010" y="429" width="3" height="8"/>
<rect x="1016" y="425" width="1" height="13"/>
<rect x="1015" y="436" width="3" height="2"/>
<rect x="1020" y="428" width="1" height="11"/>
<rect x="1019" y="437" width="3" height="1"/>
<rect x="1024" y="433" width="1" height="16"/>
<rect x="1023" y="438" width="3" height="10"/>
<rect x="1042" y="399" width="1" height="42"/>
<rect x="1041" y="407" width="3" height="19"/>
<rect x="1046" y="416" width="1" height="16"/>
<rect x="1045" y="425" width="3" height="4"/>
<rect x="1055" y="413" width="1" height="21"/>
<rect x="1054" y="425" width="3" height="9"/>
<rect x="1068" y="376" width="1" height="30"/>
<rect x="1067" y="401" width="3" height="5"/>
<rect x="1077" y="393" width="1" height="25"/>
<rect x="1076" y="402" width="3" height="16"/>
<rect x="1086" y="391" width="1" height="27"/>
<rect x="1085" y="403" width="3" height="6"/>
<rect x="1095" y="387" width="1" height="9"/>
<rect x="1094" y="392" width="3" height="4"/>
<rect x="1099" y="390" width="1" height="8"/>
<rect x="1098" y="395" width="3" height="3"/>
<rect x="1104" y="396" width="1" height="23"/>
<rect x="1103" y="397" width="3" height="10"/>
<rect x="1108" y="403" width="1" height="10"/>
<rect x="1107" y="406" width="3" height="1"/>
<rect x="1112" y="406" width="1" height="17"/>
<rect x="1111" y="406" width="3" height="3"/>
<rect x="1117" y="397" width="1" height="21"/>
<rect x="1116" y="408" width="3" height="10"/>
<rect x="1134" y="395" width="1" height="9"/>
<rect x="1133" y="398" width="3" height="6"/>
<rect x="1139" y="402" width="1" height="9"/>
<rect x="1138" y="403" width="3" height="8"/>
<rect x="1143" y="410" width="1" height="15"/>
<rect x="1142" y="410" width="3" height="14"/>
<rect x="1156" y="417" width="1" height="7"/>
<rect x="1155" y="417" width="3" height="6"/>
<rect x="1161" y="416" width="1" height="17"/>
<rect x="1160" y="422" width="3" height="11"/>
<rect x="1165" y="424" width="1" height="13"/>
<rect x="1164" y="432" width="3" height="2"/>
<rect x="1174" y="425" width="1" height="18"/>
<rect x="1173" y="425" width="3" height="13"/>
<rect x="1178" y="437" width="1" height="19"/>
<rect x="1177" y="437" width="3" height="14"/>
<rect x="1192" y="408" width="1" height="17"/>
<rect x="1191" y="418" width="3" height="7"/>
<rect x="1196" y="424" width="1" height="15"/>
<rect x="1195" y="424" width="3" height="12"/>
<rect x="1205" y="419" width="1" height="13"/>
<rect x="1204" y="425" width="3" height="3"/>
<rect x="1209" y="415" width="1" height="18"/>
<rect x="1208" y="427" width="3" height="2"/>
<rect x="1231" y="387" width="1" height="19"/>
<rect x="1230" y="387" width="3" height="18"/>
<rect x="1240" y="393" width="1" height="22"/>
<rect x="1239" y="394" width="3" height="21"/>
<rect x="1245" y="413" width="1" height="14"/>
<rect x="1244" y="414" width="3" height="13"/>
<rect x="1249" y="426" width="1" height="32"/>
<rect x="1248" y="426" width="3" height="17"/>
<rect x="1253" y="438" width="1" height="15"/>
<rect x="1252" y="442" width="3" height="11"/>
<rect x="1258" y="446" width="1" height="11"/>
<rect x="1257" y="452" width="3" height="1"/>
<rect x="1267" y="432" width="1" height="12"/>
<rect x="1266" y="435" width="3" height="6"/>
<rect x="1280" y="382" width="1" height="20"/>
<rect x="1279" y="383" width="3" height="19"/>
<rect x="1289" y="386" width="1" height="9"/>
<rect x="1288" y="393" width="3" height="1"/>
<rect x="1297" y="372" width="1" height="24"/>
<rect x="1296" y="387" width="3" height="4"/>
<rect x="1302" y="390" width="1" height="26"/>
<rect x="1301" y="390" width="3" height="26"/>
<rect x="1315" y="390" width="1" height="10"/>
<rect x="1314" y="396" width="3" height="4"/>
<rect x="1319" y="399" width="1" height="8"/>
<rect x="1318" y="399" width="3" height="6"/>
<rect x="1333" y="400" width="1" height="7"/>
<rect x="1332" y="401" width="3" height="6"/>
<rect x="1359" y="373" width="1" height="29"/>
<rect x="1358" y="373" width="3" height="29"/>
<rect x="1386" y="252" width="1" height="27"/>
<rect x="1385" y="277" width="3" height="1"/>
<rect x="1390" y="276" width="1" height="17"/>
<rect x="1389" y="277" width="3" height="16"/>
</g>
</g>
<g fill="#f23645" shape-rendering="crispEdges">
<rect x="10" y="292" width="1" height="1"/>
<rect x="13" y="292" width="1" height="1"/>
<rect x="16" y="292" width="1" height="1"/>
<rect x="19" y="292" width="1" height="1"/>
<rect x="22" y="292" width="1" height="1"/>
<rect x="25" y="292" width="1" height="1"/>
<rect x="28" y="292" width="1" height="1"/>
<rect x="31" y="292" width="1" height="1"/>
<rect x="34" y="292" width="1" height="1"/>
<rect x="37" y="292" width="1" height="1"/>
<rect x="40" y="292" width="1" height="1"/>
<rect x="43" y="292" width="1" height="1"/>
<rect x="46" y="292" width="1" height="1"/>
<rect x="49" y="292" width="1" height="1"/>
<rect x="52" y="292" width="1" height="1"/>
<rect x="55" y="292" width="1" height="1"/>
<rect x="58" y="292" width="1" height="1"/>
<rect x="61" y="292" width="1" height="1"/>
<rect x="64" y="292" width="1" height="1"/>
<rect x="67" y="292" width="1" height="1"/>
<rect x="70" y="292" width="1" height="1"/>
<rect x="73" y="292" width="1" height="1"/>
<rect x="76" y="292" width="1" height="1"/>
<rect x="79" y="292" width="1" height="1"/>
<rect x="82" y="292" width="1" height="1"/>
<rect x="85" y="292" width="1" height="1"/>
<rect x="88" y="292" width="1" height="1"/>
<rect x="91" y="292" width="1" height="1"/>
<rect x="94" y="292" width="1" height="1"/>
<rect x="97" y="292" width="1" height="1"/>
<rect x="100" y="292" width="1" height="1"/>
<rect x="103" y="292" width="1" height="1"/>
<rect x="106" y="292" width="1" height="1"/>
<rect x="109" y="292" width="1" height="1"/>
<rect x="112" y="292" width="1" height="1"/>
<rect x="115" y="292" width="1" height="1"/>
<rect x="118" y="292" width="1" height="1"/>
<rect x="121" y="292" width="1" height="1"/>
<rect x="124" y="292" width="1" height="1"/>
<rect x="127" y="292" width="1" height="1"/>
<rect x="130" y="292" width="1" height="1"/>
<rect x="133" y="292" width="1" height="1"/>
<rect x="136" y="292" width="1" height="1"/>
<rect x="139" y="292" width="1" height="1"/>
<rect x="142" y="292" width="1" height="1"/>
<rect x="145" y="292" width="1" height="1"/>
<rect x="148" y="292" width="1" height="1"/>
<rect x="151" y="292" width="1" height="1"/>
<rect x="154" y="292" width="1" height="1"/>
<rect x="157" y="292" width="1" height="1"/>
<rect x="160" y="292" width="1" height="1"/>
<rect x="163" y="292" width="1" height="1"/>
<rect x="166" y="292" width="1" height="1"/>
<rect x="169" y="292" width="1" height="1"/>
<rect x="172" y="292" width="1" height="1"/>
<rect x="175" y="292" width="1" height="1"/>
<rect x="178" y="292" width="1" height="1"/>
<rect x="181" y="292" width="1" height="1"/>
<rect x="184" y="292" width="1" height="1"/>
<rect x="187" y="292" width="1" height="1"/>
<rect x="190" y="292" width="1" height="1"/>
<rect x="193" y="292" width="1" height="1"/>
<rect x="196" y="292" width="1" height="1"/>
<rect x="199" y="292" width="1" height="1"/>
<rect x="202" y="292" width="1" height="1"/>
<rect x="205" y="292" width="1" height="1"/>
<rect x="208" y="292" width="1" height="1"/>
<rect x="211" y="292" width="1" height="1"/>
<rect x="214" y="292" width="1" height="1"/>
<rect x="217" y="292" width="1" height="1"/>
<rect x="220" y="292" width="1" height="1"/>
<rect x="223" y="292" width="1" height="1"/>
<rect x="226" y="292" width="1" height="1"/>
<rect x="229" y="292" width="1" height="1"/>
<rect x="232" y="292" width="1" height="1"/>
<rect x="235" y="292" width="1" height="1"/>
<rect x="238" y="292" width="1" height="1"/>
<rect x="241" y="292" width="1" height="1"/>
<rect x="244" y="292" width="1" height="1"/>
<rect x="247" y="292" width="1" height="1"/>
<rect x="250" y="292" width="1" height="1"/>
<rect x="253" y="292" width="1" height="1"/>
<rect x="256" y="292" width="1" height="1"/>
<rect x="259" y="292" width="1" height="1"/>
<rect x="262" y="292" width="1" height="1"/>
<rect x="265" y="292" width="1" height="1"/>
<rect x="268" y="292" width="1" height="1"/>
<rect x="271" y="292" width="1" height="1"/>
<rect x="274" y="292" width="1" height="1"/>
<rect x="277" y="292" width="1" height="1"/>
<rect x="280" y="292" width="1" height="1"/>
<rect x="283" y="292" width="1" height="1"/>
<rect x="286" y="292" width="1" height="1"/>
<rect x="289" y="292" width="1" height="1"/>
<rect x="292" y="292" width="1" height="1"/>
<rect x="295" y="292" width="1" height="1"/>
<rect x="298" y="292" width="1" height="1"/>
<rect x="301" y="292" width="1" height="1"/>
<rect x="304" y="292" width="1" height="1"/>
<rect x="307" y="292" width="1" height="1"/>
<rect x="310" y="292" width="1" height="1"/>
<rect x="313" y="292" width="1" height="1"/>
<rect x="316" y="292" width="1" height="1"/>
<rect x="319" y="292" width="1" height="1"/>
<rect x="322" y="292" width="1" height="1"/>
<rect x="325" y="292" width="1" height="1"/>
<rect x="328" y="292" width="1" height="1"/>
<rect x="331" y="292" width="1" height="1"/>
<rect x="334" y="292" width="1" height="1"/>
<rect x="337" y="292" width="1" height="1"/>
<rect x="340" y="292" width="1" height="1"/>
<rect x="343" y="292" width="1" height="1"/>
<rect x="346" y="292" width="1" height="1"/>
<rect x="349" y="292" width="1" height="1"/>
<rect x="352" y="292" width="1" height="1"/>
<rect x="355" y="292" width="1" height="1"/>
<rect x="358" y="292" width="1" height="1"/>
<rect x="361" y="292" width="1" height="1"/>
<rect x="364" y="292" width="1" height="1"/>
<rect x="367" y="292" width="1" height="1"/>
<rect x="370" y="292" width="1" height="1"/>
<rect x="373" y="292" width="1" height="1"/>
<rect x="376" y="292" width="1" height="1"/>
<rect x="379" y="292" width="1" height="1"/>
<rect x="382" y="292" width="1" height="1"/>
<rect x="385" y="292" width="1" height="1"/>
<rect x="388" y="292" width="1" height="1"/>
<rect x="391" y="292" width="1" height="1"/>
<rect x="394" y="292" width="1" height="1"/>
<rect x="397" y="292" width="1" height="1"/>
<rect x="400" y="292" width="1" height="1"/>
<rect x="403" y="292" width="1" height="1"/>
<rect x="406" y="292" width="1" height="1"/>
<rect x="409" y="292" width="1" height="1"/>
<rect x="412" y="292" width="1" height="1"/>
<rect x="415" y="292" width="1" height="1"/>
<rect x="418" y="292" width="1" height="1"/>
<rect x="421" y="292" width="1" height="1"/>
<rect x="424" y="292" width="1" height="1"/>
<rect x="427" y="292" width="1" height="1"/>
<rect x="430" y="292" width="1" height="1"/>
<rect x="433" y="292" width="1" height="1"/>
<rect x="436" y="292" width="1" height="1"/>
<rect x="439" y="292" width="1" height="1"/>
<rect x="442" y="292" width="1" height="1"/>
<rect x="445" y="292" width="1" height="1"/>
<rect x="448" y="292" width="1" height="1"/>
<rect x="451" y="292" width="1" height="1"/>
<rect x="454" y="292" width="1" height="1"/>
<rect x="457" y="292" width="1" height="1"/>
<rect x="460" y="292" width="1" height="1"/>
<rect x="463" y="292" width="1" height="1"/>
<rect x="466" y="292" width="1" height="1"/>
<rect x="469" y="292" width="1" height="1"/>
<rect x="472" y="292" width="1" height="1"/>
<rect x="475" y="292" width="1" height="1"/>
<rect x="478" y="292" width="1" height="1"/>
<rect x="481" y="292" width="1" height="1"/>
<rect x="484" y="292" width="1" height="1"/>
<rect x="487" y="292" width="1" height="1"/>
<rect x="490" y="292" width="1" height="1"/>
<rect x="493" y="292" width="1" height="1"/>
<rect x="496" y="292" width="1" height="1"/>
<rect x="499" y="292" width="1" height="1"/>
<rect x="502" y="292" width="1" height="1"/>
<rect x="505" y="292" width="1" height="1"/>
<rect x="508" y="292" width="1" height="1"/>
<rect x="511" y="292" width="1" height="1"/>
<rect x="514" y="292" width="1" height="1"/>
<rect x="517" y="292" width="1" height="1"/>
<rect x="520" y="292" width="1" height="1"/>
<rect x="523" y="292" width="1" height="1"/>
<rect x="526" y="292" width="1" height="1"/>
<rect x="529" y="292" width="1" height="1"/>
<rect x="532" y="292" width="1" height="1"/>
<rect x="535" y="292" width="1" height="1"/>
<rect x="538" y="292" width="1" height="1"/>
<rect x="541" y="292" width="1" height="1"/>
<rect x="544" y="292" width="1" height="1"/>
<rect x="547" y="292" width="1" height="1"/>
<rect x="550" y="292" width="1" height="1"/>
<rect x="553" y="292" width="1" height="1"/>
<rect x="556" y="292" width="1" height="1"/>
<rect x="559" y="292" width="1" height="1"/>
<rect x="562" y="292" width="1" height="1"/>
<rect x="565" y="292" width="1" height="1"/>
<rect x="568" y="292" width="1" height="1"/>
<rect x="571" y="292" width="1" height="1"/>
<rect x="574" y="292" width="1" height="1"/>
<rect x="577" y="292" width="1" height="1"/>
<rect x="580" y="292" width="1" height="1"/>
<rect x="583" y="292" width="1" height="1"/>
<rect x="586" y="292" width="1" height="1"/>
<rect x="589" y="292" width="1" height="1"/>
<rect x="592" y="292" width="1" height="1"/>
<rect x="595" y="292" width="1" height="1"/>
<rect x="598" y="292" width="1" height="1"/>
<rect x="601" y="292" width="1" height="1"/>
<rect x="604" y="292" width="1" height="1"/>
<rect x="607" y="292" width="1" height="1"/>
<rect x="610" y="292" width="1" height="1"/>
<rect x="613" y="292" width="1" height="1"/>
<rect x="616" y="292" width="1" height="1"/>
<rect x="619" y="292" width="1" height="1"/>
<rect x="622" y="292" width="1" height="1"/>
<rect x="625" y="292" width="1" height="1"/>
<rect x="628" y="292" width="1" height="1"/>
<rect x="631" y="292" width="1" height="1"/>
<rect x="634" y="292" width="1" height="1"/>
<rect x="637" y="292" width="1" height="1"/>
<rect x="640" y="292" width="1" height="1"/>
<rect x="643" y="292" width="1" height="1"/>
<rect x="646" y="292" width="1" height="1"/>
<rect x="649" y="292" width="1" height="1"/>
<rect x="652" y="292" width="1" height="1"/>
<rect x="655" y="292" width="1" height="1"/>
<rect x="658" y="292" width="1" height="1"/>
<rect x="661" y="292" width="1" height="1"/>
<rect x="664" y="292" width="1" height="1"/>
<rect x="667" y="292" width="1" height="1"/>
<rect x="670" y="292" width="1" height="1"/>
<rect x="673" y="292" width="1" height="1"/>
<rect x="676" y="292" width="1" height="1"/>
<rect x="679" y="292" width="1" height="1"/>
<rect x="682" y="292" width="1" height="1"/>
<rect x="685" y="292" width="1" height="1"/>
<rect x="688" y="292" width="1" height="1"/>
<rect x="691" y="292" width="1" height="1"/>
<rect x="694" y="292" width="1" height="1"/>
<rect x="697" y="292" width="1" height="1"/>
<rect x="700" y="292" width="1" height="1"/>
<rect x="703" y="292" width="1" height="1"/>
<rect x="706" y="292" width="1" height="1"/>
<rect x="709" y="292" width="1" height="1"/>
<rect x="712" y="292" width="1" height="1"/>
<rect x="715" y="292" width="1" height="1"/>
<rect x="718" y="292" width="1" height="1"/>
<rect x="721" y="292" width="1" height="1"/>
<rect x="724" y="292" width="1" height="1"/>
<rect x="727" y="292" width="1" height="1"/>
<rect x="730" y="292" width="1" height="1"/>
<rect x="733" y="292" width="1" height="1"/>
<rect x="736" y="292" width="1" height="1"/>
<rect x="739" y="292" width="1" height="1"/>
<rect x="742" y="292" width="1" height="1"/>
<rect x="745" y="292" width="1" height="1"/>
<rect x="748" y="292" width="1" height="1"/>
<rect x="751" y="292" width="1" height="1"/>
<rect x="754" y="292" width="1" height="1"/>
<rect x="757" y="292" width="1" height="1"/>
<rect x="760" y="292" width="1" height="1"/>
<rect x="763" y="292" width="1" height="1"/>
<rect x="766" y="292" width="1" height="1"/>
<rect x="769" y="292" width="1" height="1"/>
<rect x="772" y="292" width="1" height="1"/>
<rect x="775" y="292" width="1" height="1"/>
<rect x="778" y="292" width="1" height="1"/>
<rect x="781" y="292" width="1" height="1"/>
<rect x="784" y="292" width="1" height="1"/>
<rect x="787" y="292" width="1" height="1"/>
<rect x="790" y="292" width="1" height="1"/>
<rect x="793" y="292" width="1" height="1"/>
<rect x="796" y="292" width="1" height="1"/>
<rect x="799" y="292" width="1" height="1"/>
<rect x="802" y="292" width="1" height="1"/>
<rect x="805" y="292" width="1" height="1"/>
<rect x="808" y="292" width="1" height="1"/>
<rect x="811" y="292" width="1" height="1"/>
<rect x="814" y="292" width="1" height="1"/>
<rect x="817" y="292" width="1" height="1"/>
<rect x="820" y="292" width="1" height="1"/>
<rect x="823" y="292" width="1" height="1"/>
<rect x="826" y="292" width="1" height="1"/>
<rect x="829" y="292" width="1" height="1"/>
<rect x="832" y="292" width="1" height="1"/>
<rect x="835" y="292" width="1" height="1"/>
<rect x="838" y="292" width="1" height="1"/>
<rect x="841" y="292" width="1" height="1"/>
<rect x="844" y="292" width="1" height="1"/>
<rect x="847" y="292" width="1" height="1"/>
<rect x="850" y="292" width="1" height="1"/>
<rect x="853" y="292" width="1" height="1"/>
<rect x="856" y="292" width="1" height="1"/>
<rect x="859" y="292" width="1" height="1"/>
<rect x="862" y="292" width="1" height="1"/>
<rect x="865" y="292" width="1" height="1"/>
<rect x="868" y="292" width="1" height="1"/>
<rect x="871" y="292" width="1" height="1"/>
<rect x="874" y="292" width="1" height="1"/>
<rect x="877" y="292" width="1" height="1"/>
<rect x="880" y="292" width="1" height="1"/>
<rect x="883" y="292" width="1" height="1"/>
<rect x="886" y="292" width="1" height="1"/>
<rect x="889" y="292" width="1" height="1"/>
<rect x="892" y="292" width="1" height="1"/>
<rect x="895" y="292" width="1" height="1"/>
<rect x="898" y="292" width="1" height="1"/>
<rect x="901" y="292" width="1" height="1"/>
<rect x="904" y="292" width="1" height="1"/>
<rect x="907" y="292" width="1" height="1"/>
<rect x="910" y="292" width="1" height="1"/>
<rect x="913" y="292" width="1" height="1"/>
<rect x="916" y="292" width="1" height="1"/>
<rect x="919" y="292" width="1" height="1"/>
<rect x="922" y="292" width="1" height="1"/>
<rect x="925" y="292" width="1" height="1"/>
<rect x="928" y="292" width="1" height="1"/>
<rect x="931" y="292" width="1" height="1"/>
<rect x="934" y="292" width="1" height="1"/>
<rect x="937" y="292" width="1" height="1"/>
<rect x="940" y="292" width="1" height="1"/>
<rect x="943" y="292" width="1" height="1"/>
<rect x="946" y="292" width="1" height="1"/>
<rect x="949" y="292" width="1" height="1"/>
<rect x="952" y="292" width="1" height="1"/>
<rect x="955" y="292" width="1" height="1"/>
<rect x="958" y="292" width="1" height="1"/>
<rect x="961" y="292" width="1" height="1"/>
<rect x="964" y="292" width="1" height="1"/>
<rect x="967" y="292" width="1" height="1"/>
<rect x="970" y="292" width="1" height="1"/>
<rect x="973" y="292" width="1" height="1"/>
<rect x="976" y="292" width="1" height="1"/>
<rect x="979" y="292" width="1" height="1"/>
<rect x="982" y="292" width="1" height="1"/>
<rect x="985" y="292" width="1" height="1"/>
<rect x="988" y="292" width="1" height="1"/>
<rect x="991" y="292" width="1" height="1"/>
<rect x="994" y="292" width="1" height="1"/>
<rect x="997" y="292" width="1" height="1"/>
<rect x="1000" y="292" width="1" height="1"/>
<rect x="1003" y="292" width="1" height="1"/>
<rect x="1006" y="292" width="1" height="1"/>
<rect x="1009" y="292" width="1" height="1"/>
<rect x="1012" y="292" width="1" height="1"/>
<rect x="1015" y="292" width="1" height="1"/>
<rect x="1018" y="292" width="1" height="1"/>
<rect x="1021" y="292" width="1" height="1"/>
<rect x="1024" y="292" width="1" height="1"/>
<rect x="1027" y="292" width="1" height="1"/>
<rect x="1030" y="292" width="1" height="1"/>
<rect x="1033" y="292" width="1" height="1"/>
<rect x="1036" y="292" width="1" height="1"/>
<rect x="1039" y="292" width="1" height="1"/>
<rect x="1042" y="292" width="1" height="1"/>
<rect x="1045" y="292" width="1" height="1"/>
<rect x="1048" y="292" width="1" height="1"/>
<rect x="1051" y="292" width="1" height="1"/>
<rect x="1054" y="292" width="1" height="1"/>
<rect x="1057" y="292" width="1" height="1"/>
<rect x="1060" y="292" width="1" height="1"/>
<rect x="1063" y="292" width="1" height="1"/>
<rect x="1066" y="292" width="1" height="1"/>
<rect x="1069" y="292" width="1" height="1"/>
<rect x="1072" y="292" width="1" height="1"/>
<rect x="1075" y="292" width="1" height="1"/>
<rect x="1078" y="292" width="1" height="1"/>
<rect x="1081" y="292" width="1" height="1"/>
<rect x="1084" y="292" width="1" height="1"/>
<rect x="1087" y="292" width="1" height="1"/>
<rect x="1090" y="292" width="1" height="1"/>
<rect x="1093" y="292" width="1" height="1"/>
<rect x="1096" y="292" width="1" height="1"/>
<rect x="1099" y="292" width="1" height="1"/>
<rect x="1102" y="292" width="1" height="1"/>
<rect x="1105" y="292" width="1" height="1"/>
<rect x="1108" y="292" width="1" height="1"/>
<rect x="1111" y="292" width="1" height="1"/>
<rect x="1114" y="292" width="1" height="1"/>
<rect x="1117" y="292" width="1" height="1"/>
<rect x="1120" y="292" width="1" height="1"/>
<rect x="1123" y="292" width="1" height="1"/>
<rect x="1126" y="292" width="1" height="1"/>
<rect x="1129" y="292" width="1" height="1"/>
<rect x="1132" y="292" width="1" height="1"/>
<rect x="1135" y="292" width="1" height="1"/>
<rect x="1138" y="292" width="1" height="1"/>
<rect x="1141" y="292" width="1" height="1"/>
<rect x="1144" y="292" width="1" height="1"/>
<rect x="1147" y="292" width="1" height="1"/>
<rect x="1150" y="292" width="1" height="1"/>
<rect x="1153" y="292" width="1" height="1"/>
<rect x="1156" y="292" width="1" height="1"/>
<rect x="1159" y="292" width="1" height="1"/>
<rect x="1162" y="292" width="1" height="1"/>
<rect x="1165" y="292" width="1" height="1"/>
<rect x="1168" y="292" width="1" height="1"/>
<rect x="1171" y="292" width="1" height="1"/>
<rect x="1174" y="292" width="1" height="1"/>
<rect x="1177" y="292" width="1" height="1"/>
<rect x="1180" y="292" width="1" height="1"/>
<rect x="1183" y="292" width="1" height="1"/>
<rect x="1186" y="292" width="1" height="1"/>
<rect x="1189" y="292" width="1" height="1"/>
<rect x="1192" y="292" width="1" height="1"/>
<rect x="1195" y="292" width="1" height="1"/>
<rect x="1198" y="292" width="1" height="1"/>
<rect x="1201" y="292" width="1" height="1"/>
<rect x="1204" y="292" width="1" height="1"/>
<rect x="1207" y="292" width="1" height="1"/>
<rect x="1210" y="292" width="1" height="1"/>
<rect x="1213" y="292" width="1" height="1"/>
<rect x="1216" y="292" width="1" height="1"/>
<rect x="1219" y="292" width="1" height="1"/>
<rect x="1222" y="292" width="1" height="1"/>
<rect x="1225" y="292" width="1" height="1"/>
<rect x="1228" y="292" width="1" height="1"/>
<rect x="1231" y="292" width="1" height="1"/>
<rect x="1234" y="292" width="1" height="1"/>
<rect x="1237" y="292" width="1" height="1"/>
<rect x="1240" y="292" width="1" height="1"/>
<rect x="1243" y="292" width="1" height="1"/>
<rect x="1246" y="292" width="1" height="1"/>
<rect x="1249" y="292" width="1" height="1"/>
<rect x="1252" y="292" width="1" height="1"/>
<rect x="1255" y="292" width="1" height="1"/>
<rect x="1258" y="292" width="1" height="1"/>
<rect x="1261" y="292" width="1" height="1"/>
<rect x="1264" y="292" width="1" height="1"/>
<rect x="1267" y="292" width="1" height="1"/>
<rect x="1270" y="292" width="1" height="1"/>
<rect x="1273" y="292" width="1" height="1"/>
<rect x="1276" y="292" width="1" height="1"/>
<rect x="1279" y="292" width="1" height="1"/>
<rect x="1282" y="292" width="1" height="1"/>
<rect x="1285" y="292" width="1" height="1"/>
<rect x="1288" y="292" width="1" height="1"/>
<rect x="1291" y="292" width="1" height="1"/>
<rect x="1294" y="292" width="1" height="1"/>
<rect x="1297" y="292" width="1" height="1"/>
<rect x="1300" y="292" width="1" height="1"/>
<rect x="1303" y="292" width="1" height="1"/>
<rect x="1306" y="292" width="1" height="1"/>
<rect x="1309" y="292" width="1" height="1"/>
<rect x="1312" y="292" width="1" height="1"/>
<rect x="1315" y="292" width="1" height="1"/>
<rect x="1318" y="292" width="1" height="1"/>
<rect x="1321" y="292" width="1" height="1"/>
<rect x="1324" y="292" width="1" height="1"/>
<rect x="1327" y="292" width="1" height="1"/>
<rect x="1330" y="292" width="1" height="1"/>
<rect x="1333" y="292" width="1" height="1"/>
<rect x="1336" y="292" width="1" height="1"/>
<rect x="1339" y="292" width="1" height="1"/>
<rect x="1342" y="292" width="1" height="1"/>
<rect x="1345" y="292" width="1" height="1"/>
<rect x="1348" y="292" width="1" height="1"/>
<rect x="1351" y="292" width="1" height="1"/>
<rect x="1354" y="292" width="1" height="1"/>
<rect x="1357" y="292" width="1" height="1"/>
<rect x="1360" y="292" width="1" height="1"/>
<rect x="1363" y="292" width="1" height="1"/>
<rect x="1366" y="292" width="1" height="1"/>
<rect x="1369" y="292" width="1" height="1"/>
<rect x="1372" y="292" width="1" height="1"/>
<rect x="1375" y="292" width="1" height="1"/>
<rect x="1378" y="292" width="1" height="1"/>
<rect x="1381" y="292" width="1" height="1"/>
<rect x="1384" y="292" width="1" height="1"/>
<rect x="1387" y="292" width="1" height="1"/>
<rect x="1390" y="292" width="1" height="1"/>
<rect x="1393" y="292" width="1" height="1"/>
<rect x="1396" y="292" width="1" height="1"/>
<rect x="1399" y="292" width="1" height="1"/>
<rect x="1402" y="292" width="1" height="1"/>
<rect x="1405" y="292" width="1" height="1"/>
<rect x="1408" y="292" width="1" height="1"/>
<rect x="1411" y="292" width="1" height="1"/>
<rect x="1414" y="292" width="1" height="1"/>
<rect x="1417" y="292" width="1" height="1"/>
<rect x="1420" y="292" width="1" height="1"/>
<rect x="1423" y="292" width="1" height="1"/>
<rect x="1426" y="292" width="1" height="1"/>
<rect x="1429" y="292" width="1" height="1"/>
<rect x="1432" y="292" width="1" height="1"/>
<rect x="1435" y="292" width="1" height="1"/>
<rect x="1438" y="292" width="1" height="1"/>
<rect x="1441" y="292" width="1" height="1"/>
<rect x="1444" y="292" width="1" height="1"/>
<rect x="1447" y="292" width="1" height="1"/>
<rect x="1450" y="292" width="1" height="1"/>
<rect x="1453" y="292" width="1" height="1"/>
<rect x="1456" y="292" width="1" height="1"/>
<rect x="1459" y="292" width="1" height="1"/>
<rect x="1462" y="292" width="1" height="1"/>
<rect x="1465" y="292" width="1" height="1"/>
<rect x="1468" y="292" width="1" height="1"/>
<rect x="1471" y="292" width="1" height="1"/>
<rect x="1474" y="292" width="1" height="1"/>
<rect x="1477" y="292" width="1" height="1"/>
<rect x="1480" y="292" width="1" height="1"/>
<rect x="1483" y="292" width="1" height="1"/>
<rect x="1486" y="292" width="1" height="1"/>
<rect x="1489" y="292" width="1" height="1"/>
<rect x="1492" y="292" width="1" height="1"/>
<rect x="1495" y="292" width="1" height="1"/>
<rect x="1498" y="292" width="1" height="1"/>
<rect x="1501" y="292" width="1" height="1"/>
<rect x="1504" y="292" width="1" height="1"/>
<rect x="1507" y="292" width="1" height="1"/>
<rect x="1510" y="292" width="1" height="1"/>
<rect x="1513" y="292" width="1" height="1"/>
<rect x="1516" y="292" width="1" height="1"/>
<rect x="1519" y="292" width="1" height="1"/>
<rect x="1522" y="292" width="1" height="1"/>
<rect x="1525" y="292" width="1" height="1"/>
<rect x="1528" y="292" width="1" height="1"/>
<rect x="1531" y="292" width="1" height="1"/>
<rect x="1534" y="292" width="1" height="1"/>
<rect x="1537" y="292" width="1" height="1"/>
<rect x="1540" y="292" width="1" height="1"/>
<rect x="1543" y="292" width="1" height="1"/>
<rect x="1546" y="292" width="1" height="1"/>
<rect x="1549" y="292" width="1" height="1"/>
<rect x="1552" y="292" width="1" height="1"/>
<rect x="1555" y="292" width="1" height="1"/>
<rect x="1558" y="292" width="1" height="1"/>
<rect x="1561" y="292" width="1" height="1"/>
<rect x="1564" y="292" width="1" height="1"/>
<rect x="1567" y="292" width="1" height="1"/>
<rect x="1570" y="292" width="1" height="1"/>
<rect x="1573" y="292" width="1" height="1"/>
<rect x="1576" y="292" width="1" height="1"/>
<rect x="1579" y="292" width="1" height="1"/>
<rect x="1582" y="292" width="1" height="1"/>
<rect x="1585" y="292" width="1" height="1"/>
</g>
<line x1="683.8" y1="589.45" x2="1470.1" y2="377.45" stroke="#ffeb3b" stroke-width="2"/>
<g fill="#c2c2c2" stroke="#c2c2c2" stroke-width="0.25" font-size="12">
<text x="1595" y="101.5" textLength="37" lengthAdjust="spacingAndGlyphs">62.00%</text>
<text x="1595" y="173.5" textLength="37" lengthAdjust="spacingAndGlyphs">61.50%</text>
<text x="1595" y="245.5" textLength="37" lengthAdjust="spacingAndGlyphs">61.00%</text>
<text x="1595" y="317.5" textLength="37" lengthAdjust="spacingAndGlyphs">60.50%</text>
<text x="1595" y="389.5" textLength="37" lengthAdjust="spacingAndGlyphs">60.00%</text>
<text x="1595" y="461.5" textLength="37" lengthAdjust="spacingAndGlyphs">59.50%</text>
<text x="1595" y="533.5" textLength="37" lengthAdjust="spacingAndGlyphs">59.00%</text>
<text x="1595" y="605.5" textLength="37" lengthAdjust="spacingAndGlyphs">58.50%</text>
<text x="1595" y="677.5" textLength="37" lengthAdjust="spacingAndGlyphs">58.00%</text>
</g>
<path d="M1587,284H1645a2,2 0 0 1 2,2V313a2,2 0 0 1 -2,2H1587Z" fill="#f23645"/>
<text x="1595" y="297" font-size="12" font-weight="bold" fill="#fff" textLength="37" lengthAdjust="spacingAndGlyphs">60.65%</text>
<text x="1595" y="311" font-size="12" fill="#fff" stroke="#fff" stroke-width="0.4" opacity="0.78" textLength="46.5" lengthAdjust="spacingAndGlyphs">01:19:33</text>
<path d="M1587,731H1643.5a1.5,1.5 0 0 1 1.5,1.5V746.5a1.5,1.5 0 0 1 -1.5,1.5H1587Z" fill="#ef5350"/>
<text x="1595" y="744" font-size="12" font-weight="bold" fill="#fff" textLength="36" lengthAdjust="spacingAndGlyphs">221.19</text>
<text x="1632.7" y="744" font-size="12" font-weight="bold" fill="#fff" textLength="7" lengthAdjust="spacingAndGlyphs">B</text>
<path d="M1587,748H1643.5a1.5,1.5 0 0 1 1.5,1.5V763.5a1.5,1.5 0 0 1 -1.5,1.5H1587Z" fill="#ef5350"/>
<text x="1595" y="761" font-size="12" font-weight="bold" fill="#fff" textLength="36" lengthAdjust="spacingAndGlyphs">221.19</text>
<text x="1632.7" y="761" font-size="12" font-weight="bold" fill="#fff" textLength="7" lengthAdjust="spacingAndGlyphs">B</text>
<path d="M1587,765H1643.5a1.5,1.5 0 0 1 1.5,1.5V780.5a1.5,1.5 0 0 1 -1.5,1.5H1587Z" fill="#ef5350"/>
<text x="1595" y="778" font-size="12" font-weight="bold" fill="#fff" textLength="36" lengthAdjust="spacingAndGlyphs">221.19</text>
<text x="1632.7" y="778" font-size="12" font-weight="bold" fill="#fff" textLength="7" lengthAdjust="spacingAndGlyphs">B</text>
<path d="M1587,782H1643.5a1.5,1.5 0 0 1 1.5,1.5V797.5a1.5,1.5 0 0 1 -1.5,1.5H1587Z" fill="#ef5350"/>
<text x="1595" y="795" font-size="12" font-weight="bold" fill="#fff" textLength="36" lengthAdjust="spacingAndGlyphs">221.19</text>
<text x="1632.7" y="795" font-size="12" font-weight="bold" fill="#fff" textLength="7" lengthAdjust="spacingAndGlyphs">B</text>
<path d="M1587,799H1643.5a1.5,1.5 0 0 1 1.5,1.5V813.5a1.5,1.5 0 0 1 -1.5,1.5H1587Z" fill="#ef5350"/>
<text x="1595" y="812" font-size="12" font-weight="bold" fill="#fff" textLength="36" lengthAdjust="spacingAndGlyphs">221.19</text>
<text x="1632.7" y="812" font-size="12" font-weight="bold" fill="#fff" textLength="7" lengthAdjust="spacingAndGlyphs">B</text>
<g fill="#c2c2c2" stroke="#c2c2c2" stroke-width="0.25" font-size="12" text-anchor="middle">
<text x="26.7" y="867" text-anchor="start" textLength="12.4" lengthAdjust="spacingAndGlyphs">14</text>
<text x="79.7" y="867" text-anchor="start" textLength="12.4" lengthAdjust="spacingAndGlyphs">16</text>
<text x="132.7" y="867" text-anchor="start" textLength="12.4" lengthAdjust="spacingAndGlyphs">18</text>
<text x="185.7" y="867" text-anchor="start" textLength="12.4" lengthAdjust="spacingAndGlyphs">20</text>
<text x="238.7" y="867" text-anchor="start" textLength="12.4" lengthAdjust="spacingAndGlyphs">22</text>
<text x="291.7" y="867" text-anchor="start" textLength="12.4" lengthAdjust="spacingAndGlyphs">24</text>
<text x="343.7" y="867" text-anchor="start" textLength="12.4" lengthAdjust="spacingAndGlyphs">26</text>
<text x="396.7" y="867" text-anchor="start" textLength="12.4" lengthAdjust="spacingAndGlyphs">28</text>
<text x="473.5" y="867" font-weight="bold" text-anchor="start" textLength="18.8" lengthAdjust="spacingAndGlyphs">Oct</text>
<text x="532.0" y="867" text-anchor="start" textLength="5.7" lengthAdjust="spacingAndGlyphs">3</text>
<text x="585.0" y="867" text-anchor="start" textLength="5.7" lengthAdjust="spacingAndGlyphs">5</text>
<text x="638.0" y="867" text-anchor="start" textLength="5.7" lengthAdjust="spacingAndGlyphs">7</text>
<text x="691.0" y="867" text-anchor="start" textLength="5.7" lengthAdjust="spacingAndGlyphs">9</text>
<text x="740.7" y="867" text-anchor="start" textLength="12.4" lengthAdjust="spacingAndGlyphs">11</text>
<text x="793.7" y="867" text-anchor="start" textLength="12.4" lengthAdjust="spacingAndGlyphs">13</text>
<text x="846.7" y="867" text-anchor="start" textLength="12.4" lengthAdjust="spacingAndGlyphs">15</text>
<text x="898.7" y="867" text-anchor="start" textLength="12.4" lengthAdjust="spacingAndGlyphs">17</text>
<text x="951.7" y="867" text-anchor="start" textLength="12.4" lengthAdjust="spacingAndGlyphs">19</text>
<text x="1004.7" y="867" text-anchor="start" textLength="12.4" lengthAdjust="spacingAndGlyphs">21</text>
<text x="1057.7" y="867" text-anchor="start" textLength="12.4" lengthAdjust="spacingAndGlyphs">23</text>
<text x="1110.7" y="867" text-anchor="start" textLength="12.4" lengthAdjust="spacingAndGlyphs">25</text>
<text x="1163.7" y="867" text-anchor="start" textLength="12.4" lengthAdjust="spacingAndGlyphs">27</text>
<text x="1216.7" y="867" text-anchor="start" textLength="12.4" lengthAdjust="spacingAndGlyphs">29</text>
<text x="1291.6" y="867" font-weight="bold" text-anchor="start" textLength="20.6" lengthAdjust="spacingAndGlyphs">Nov</text>
<text x="1352.1" y="867" text-anchor="start" textLength="5.7" lengthAdjust="spacingAndGlyphs">3</text>
<text x="1405.1" y="867" text-anchor="start" textLength="5.7" lengthAdjust="spacingAndGlyphs">5</text>
<text x="1457.1" y="867" text-anchor="start" textLength="5.7" lengthAdjust="spacingAndGlyphs">7</text>
<text x="1510.1" y="867" text-anchor="start" textLength="5.7" lengthAdjust="spacingAndGlyphs">9</text>
<text x="1559.7" y="867" text-anchor="start" textLength="12.4" lengthAdjust="spacingAndGlyphs">11</text>
</g>
<g font-size="12">
<text x="17.9" y="46" fill="#c9c9c9" stroke="#c9c9c9" stroke-width="0.25" textLength="36.3" lengthAdjust="spacingAndGlyphs">Market</text>
<text x="59.2" y="46" fill="#c9c9c9" stroke="#c9c9c9" stroke-width="0.25" textLength="18.5" lengthAdjust="spacingAndGlyphs">Cap</text>
<text x="82.9" y="46" fill="#c9c9c9" stroke="#c9c9c9" stroke-width="0.25" textLength="20.1" lengthAdjust="spacingAndGlyphs">BTC</text>
<text x="107" y="46" fill="#c9c9c9" stroke="#c9c9c9" stroke-width="0.25" textLength="62.7" lengthAdjust="spacingAndGlyphs">Dominance,</text>
<text x="173.9" y="46" fill="#c9c9c9" stroke="#c9c9c9" stroke-width="0.25" textLength="6.7" lengthAdjust="spacingAndGlyphs">%</text>
<text x="192.7" y="46" fill="#c9c9c9" stroke="#c9c9c9" stroke-width="0.25" textLength="12.3" lengthAdjust="spacingAndGlyphs">4h</text>
<text x="217.2" y="46" fill="#c9c9c9" stroke="#c9c9c9" stroke-width="0.25" textLength="60.8" lengthAdjust="spacingAndGlyphs">CRYPTOCAP</text>
<text x="186.9" y="46" fill="#c9c9c9" font-weight="bold" text-anchor="middle">·</text><text x="211.6" y="46" fill="#c9c9c9" font-weight="bold" text-anchor="middle">·</text>
<text x="287" y="46" fill="#c9c9c9" textLength="7.0" lengthAdjust="spacingAndGlyphs">O</text>
<text x="294.5" y="46" fill="#f23645" stroke="#f23645" stroke-width="0.25" textLength="37.0" lengthAdjust="spacingAndGlyphs">60.75%</text>
<text x="339" y="46" fill="#c9c9c9" textLength="7.0" lengthAdjust="spacingAndGlyphs">H</text>
<text x="346.5" y="46" fill="#f23645" stroke="#f23645" stroke-width="0.25" textLength="37.0" lengthAdjust="spacingAndGlyphs">60.76%</text>
<text x="391" y="46" fill="#c9c9c9" textLength="5.0" lengthAdjust="spacingAndGlyphs">L</text>
<text x="396.5" y="46" fill="#f23645" stroke="#f23645" stroke-width="0.25" textLength="36.5" lengthAdjust="spacingAndGlyphs">60.64%</text>
<text x="441" y="46" fill="#c9c9c9" textLength="6.5" lengthAdjust="spacingAndGlyphs">C</text>
<text x="448" y="46" fill="#f23645" stroke="#f23645" stroke-width="0.25" textLength="36.5" lengthAdjust="spacingAndGlyphs">60.65%</text>
<text x="493" y="46" fill="#f23645" stroke="#f23645" stroke-width="0.25" textLength="77" lengthAdjust="spacingAndGlyphs">−0.10 (−0.16%)</text>
</g>
<text x="10" y="19" font-size="12" font-weight="bold" fill="#e0e0e0" textLength="365" lengthAdjust="spacingAndGlyphs">inarin919 created with TradingView.com, Nov 04, 2025 11:40 UTC+9</text>
<g transform="translate(12,895.5) scale(0.845)" fill="#e0e0e0"><path d="M14 22H7V11H0V4h14v18z"/><circle cx="20" cy="8" r="4"/><path d="M28 22h-8l7.5-18h8L28 22z"/></g>
<text x="49" y="914" font-size="21" font-weight="bold" fill="#e0e0e0" textLength="120.5" lengthAdjust="spacingAndGlyphs">TradingView</text>
</svg>
</body></html>
